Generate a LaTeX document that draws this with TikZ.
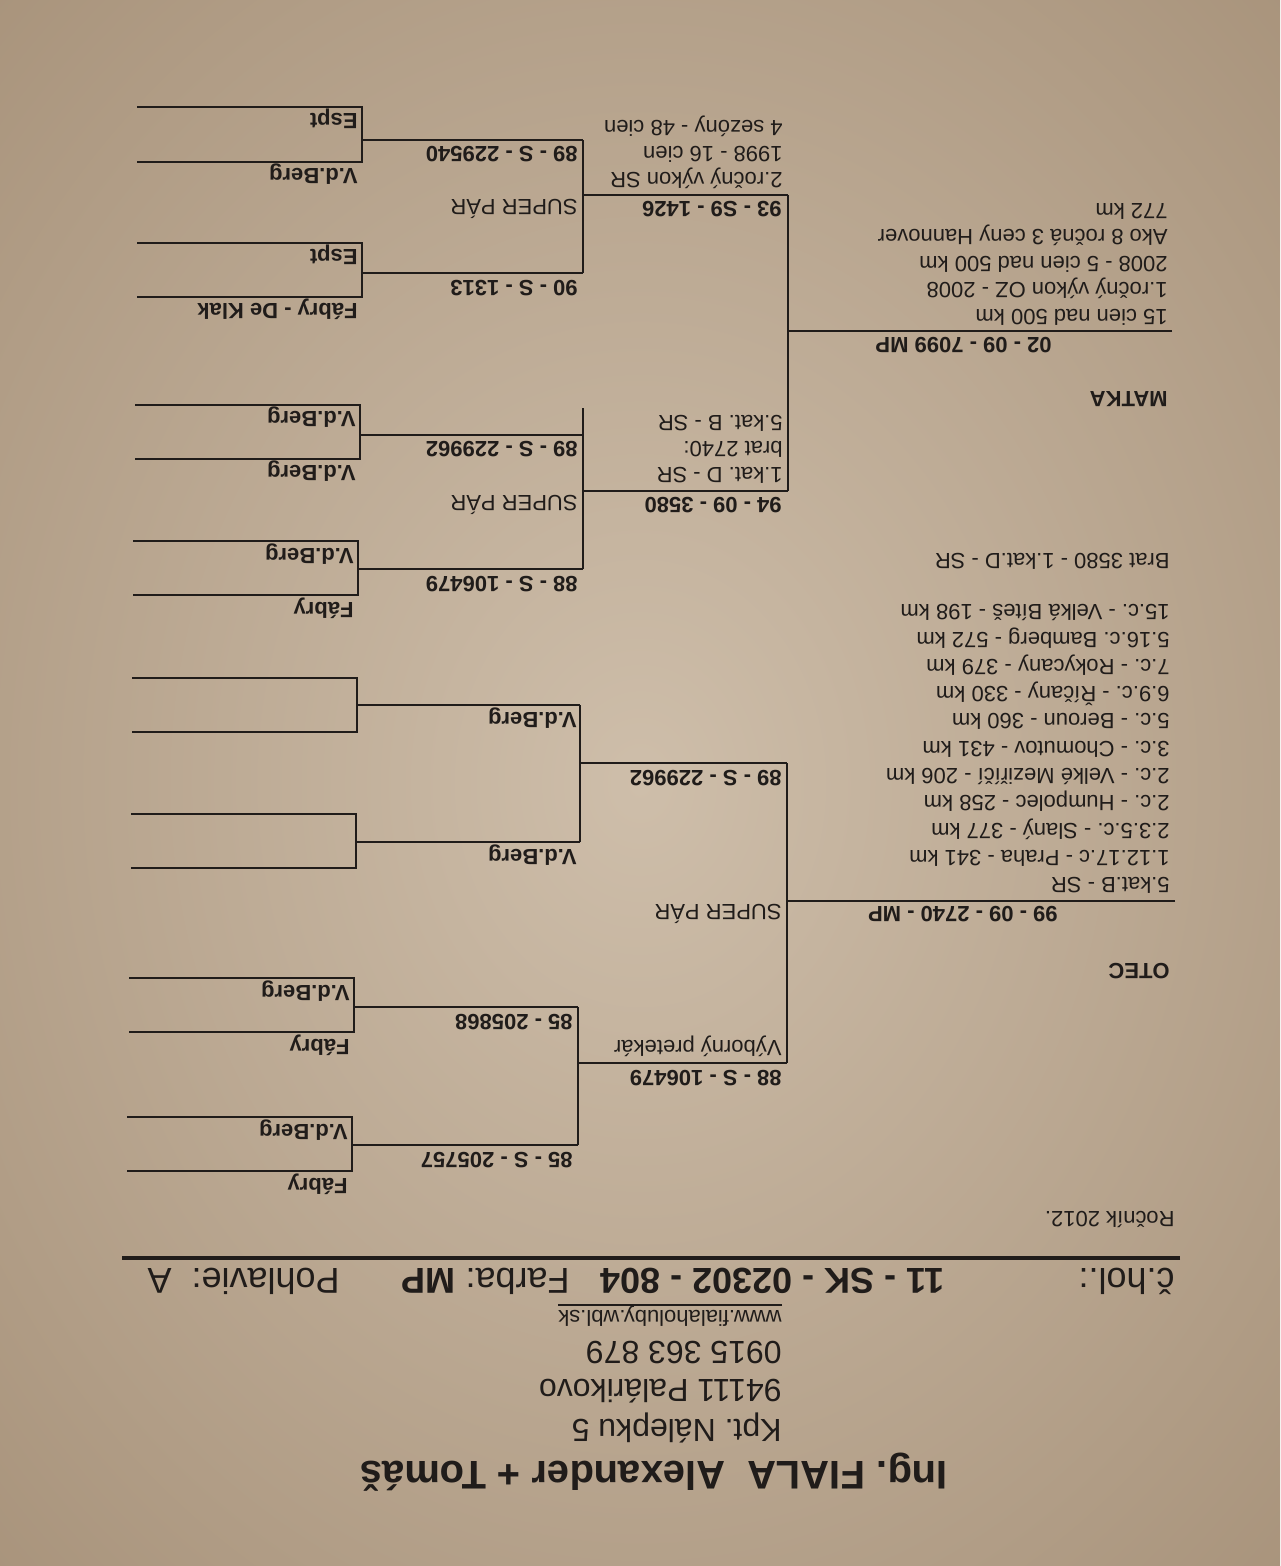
\documentclass[tikz,border=0pt]{standalone}
\usepackage{fontspec}
\setmainfont{Liberation Sans}
\frenchspacing
\definecolor{paper}{RGB}{206,190,170}
\definecolor{paperedge}{RGB}{168,147,123}
\definecolor{ink}{RGB}{32,28,26}
\tikzset{
  tree/.style={draw=ink, line width=1pt},
  txt/.style={anchor=base west, inner sep=0pt, text=ink, font=\fontsize{11}{13}\selectfont},
  idtxt/.style={txt, font=\fontsize{11}{13}\selectfont\bfseries},
}

\begin{document}
\begin{tikzpicture}[x=0.5pt,y=-0.5pt]
\useasboundingbox (0,0) rectangle (1280,1566);
\begin{scope}
\clip (0,0) rectangle (1280,1566);
\shade[inner color=paper, outer color=paperedge] (-300,-350) rectangle (1580,1916);
\end{scope}

% the sheet lies upside down
\begin{scope}[shift={(1280,1566)}, rotate=180, transform shape]
\node[txt, font=\fontsize{20}{24}\selectfont\bfseries] (owner) at (332,105) {Ing. FIALA\ \ Alexander + Tomáš};
\node[txt, font=\fontsize{16}{19}\selectfont] (street) at (498,147) {Kpt. Nálepku 5};
\node[txt, font=\fontsize{16}{19}\selectfont] (town) at (498,187) {94111 Palárikovo};
\node[txt, font=\fontsize{16}{19}\selectfont] (phone) at (498,225) {0915 363 879};
\node[txt] (web) at (498,256) {www.fialaholuby.wbl.sk};
\draw[ink, line width=0.6pt] (web.south west) -- (web.south east);

\node[txt, font=\fontsize{18}{22}\selectfont] (holtag) at (105,298) {č.hol.:};
\node[txt, font=\fontsize{18}{22}\selectfont\bfseries] (ring) at (335,298) {11 - SK - 02302 - 804};
\node[txt, font=\fontsize{18}{22}\selectfont] (farba) at (710,298) {Farba: \textbf{MP}};
\node[txt, font=\fontsize{18}{22}\selectfont] (sex) at (940,298) {Pohlavie:\ \ A};
\draw[ink, line width=2pt] (100,308) -- (1158,308);
\node[txt] (year) at (105,355) {Ročník 2012.};

% junctions
\coordinate (s) at (105,665);
\coordinate (ss) at (493,503);
\coordinate (sd) at (493,803);
\coordinate (sss) at (702,421);
\coordinate (ssd) at (702,559);
\coordinate (sds) at (700,724);
\coordinate (sdd) at (700,861);
\coordinate (ssss) at (928,395);
\coordinate (sssd) at (928,449);
\coordinate (ssds) at (926,534);
\coordinate (ssdd) at (926,588);
\coordinate (sdss) at (924,698);
\coordinate (sdsd) at (924,752);
\coordinate (sdds) at (923,834);
\coordinate (sddd) at (923,888);
\coordinate (d) at (108,1235);
\coordinate (ds) at (492,1075);
\coordinate (dd) at (492,1371);
\coordinate (dss) at (697,997);
\coordinate (dsd) at (697,1131);
\coordinate (dds) at (697,1293);
\coordinate (ddd) at (697,1426);
\coordinate (dsss) at (922,971);
\coordinate (dssd) at (922,1025);
\coordinate (dsds) at (920,1107);
\coordinate (dsdd) at (920,1161);
\coordinate (ddss) at (918,1269);
\coordinate (ddsd) at (918,1323);
\coordinate (ddds) at (918,1404);
\coordinate (dddd) at (918,1459);

% lines
\draw[tree] (s) -- (s -| ss);
\draw[tree] (d) -- (d -| ds);
\draw[tree] (ss) -- (sd);
\draw[tree] (ds) -- (dd);
\foreach \a/\b in {ss/sss, sd/sds, ds/dss, dd/dds}
  \draw[tree] (\a) -- (\a -| \b);
\draw[tree] (sss) -- (ssd);
\draw[tree] (sds) -- (sdd);
\draw[tree] (dss) -- (dsd) -- ++(0,27);
\draw[tree] (dds) -- (ddd);
\foreach \a/\b in {sss/ssss, ssd/ssds, sds/sdss, sdd/sdds, dss/dsss, dsd/dsds, dds/ddss, ddd/ddds}
  \draw[tree] (\a) -- (\a -| \b);
\foreach \a/\b in {ssss/sssd, ssds/ssdd, sdss/sdsd, sdds/sddd, dsss/dssd, dsds/dsdd, ddss/ddsd, ddds/dddd}
  \draw[tree] (\a) ++(225,0) -- (\a) -- (\b) -- ++(225,0);

% father
\node[idtxt] (otec) at (110,603) {OTEC};
\node[idtxt] (sire) at (222,660) {99 - 09 - 2740 - MP};
\foreach \t [count=\i] in {5.kat.B - SR, 1.12.17.c - Praha - 341 km, 2.3.5.c. - Slaný - 377 km,
    2.c. - Humpolec - 258 km, 2.c. - Velké Meziříčí - 206 km, 3.c. - Chomutov - 431 km,
    5.c. - Beroun - 360 km, 6.9.c. - Říčany - 330 km, 7.c. - Rokycany - 379 km,
    5.16.c. Bamberg - 572 km, 15.c. - Velká Bíteš - 198 km}
  \node[txt] (sire-\i) at (110,{661+27.3*\i}) {\t};
\node[txt] (brat) at (110,1013) {Brat 3580 - 1.kat.D - SR};

\node[idtxt] (n-ss) at ([shift={(5,-7)}]ss) {88 - S - 106479};
\node[txt] (ss-note) at (498,526) {Výborný pretekár};
\node[txt] (s-pair) at (498,662) {SUPER PÁR};
\node[idtxt] (n-sd) at ([shift={(5,-7)}]sd) {89 - S - 229962};
\node[idtxt] (n-sss) at ([shift={(5,-7)}]sss) {85 - S - 205757};
\node[idtxt] (n-ssd) at ([shift={(5,-7)}]ssd) {85 - 205868};
\node[idtxt] (n-sds) at ([shift={(3,-7)}]sds) {V.d.Berg};
\node[idtxt] (n-sdd) at ([shift={(3,-7)}]sdd) {V.d.Berg};

% mother
\node[idtxt] (matka) at (112,1174) {MATKA};
\node[idtxt] (dam) at (228,1228) {02 - 09 - 7099 MP};
\foreach \t [count=\i] in {15 cien nad 500 km, 1.ročný výkon OZ - 2008, 2008 - 5 cien nad 500 km,
    Ako 8 ročná 3 ceny Hannover, 772 km}
  \node[txt] (dam-\i) at (112,{1230+26.5*\i}) {\t};

\node[idtxt] (n-ds) at ([shift={(6,-7)}]ds) {94 - 09 - 3580};
\foreach \t [count=\i] in {1.kat. D - SR, brat 2740:, 5.kat. B - SR}
  \node[txt] (ds-\i) at (497,{1072+26*\i}) {\t};
\node[idtxt] (n-dd) at ([shift={(6,-7)}]dd) {93 - S9 - 1426};
\foreach \t [count=\i] in {2.ročný výkon SR, 1998 - 16 cien, 4 sezóny - 48 cien}
  \node[txt] (dd-\i) at (497,{1367+26.3*\i}) {\t};

\node[idtxt] (n-dss) at ([shift={(5,-7)}]dss) {88 - S - 106479};
\node[txt] (ds-pair) at (702,1071) {SUPER PÁR};
\node[idtxt] (n-dsd) at ([shift={(5,-7)}]dsd) {89 - S - 229962};
\node[idtxt] (n-dds) at ([shift={(5,-8)}]dds) {90 - S - 1313};
\node[txt] (dd-pair) at (702,1366) {SUPER PÁR};
\node[idtxt] (n-ddd) at ([shift={(5,-7)}]ddd) {89 - S - 229540};

% great-grandparents
\foreach \c/\t in {ssss/Fábry, sssd/V.d.Berg, ssds/Fábry, ssdd/V.d.Berg,
    dsss/Fábry, dssd/V.d.Berg, dsds/V.d.Berg, dsdd/V.d.Berg,
    ddss/Fábry - De Klak, ddsd/Espt, ddds/V.d.Berg, dddd/Espt}
  \node[idtxt] (n-\c) at ([shift={(4,-7)}]\c) {\t};
\end{scope}
\end{tikzpicture}
\end{document}
